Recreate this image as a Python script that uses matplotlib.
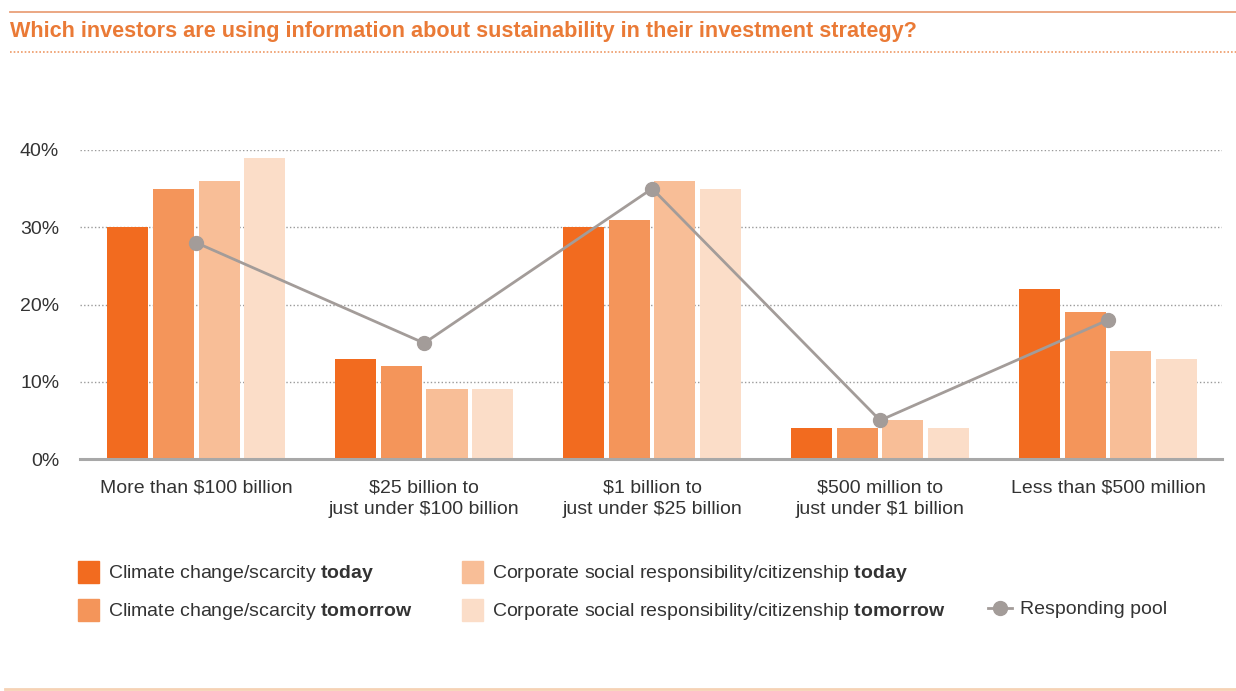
import matplotlib
matplotlib.use("Agg")
import matplotlib.pyplot as plt
from matplotlib.lines import Line2D
from matplotlib.patches import Rectangle
import numpy as np

plt.rcParams['font.family'] = ['Liberation Sans', 'DejaVu Sans']
plt.rcParams['mathtext.fontset'] = 'custom'
plt.rcParams['mathtext.rm'] = 'Liberation Sans'
plt.rcParams['mathtext.bf'] = 'Liberation Sans:bold'

title = "Which investors are using information about sustainability in their investment strategy?"
groups = ["More than $100 billion",
          "$25 billion to\njust under $100 billion",
          "$1 billion to\njust under $25 billion",
          "$500 million to\njust under $1 billion",
          "Less than $500 million"]
climate_today = [30, 13, 30, 4, 22]
climate_tomorrow = [35, 12, 31, 4, 19]
csr_today = [36, 9, 36, 5, 14]
csr_tomorrow = [39, 9, 35, 4, 13]
pool = [28, 15, 35, 5, 18]
yticks = [0, 10, 20, 30, 40]

series = [climate_today, climate_tomorrow, csr_today, csr_tomorrow]
colors = ["#F26B1F", "#F4955A", "#F8BE97", "#FBDDC8"]
labels = [r"Climate change/scarcity $\mathbf{today}$",
          r"Climate change/scarcity $\mathbf{tomorrow}$",
          r"Corporate social responsibility/citizenship $\mathbf{today}$",
          r"Corporate social responsibility/citizenship $\mathbf{tomorrow}$"]
gray = "#A39C99"
txt = "#333333"
orange = "#EA7A36"

W, H = 1236, 691
fig = plt.figure(figsize=(W / 100, H / 100), dpi=100)
ax = fig.add_axes([80 / W, 1 - 459 / H, (1222 - 80) / W, (459 - 150) / H])

x = np.arange(len(groups))
offsets = [-0.3, -0.1, 0.1, 0.3]
for vals, off, c in zip(series, offsets, colors):
    ax.bar(x + off, vals, width=0.18, color=c, zorder=2)

ax.plot(x, pool, color=gray, lw=2, marker="o", ms=10, zorder=3, clip_on=False)

ax.set_xlim(-0.51, 4.5)
ax.set_ylim(0, 40)
ax.set_yticks(yticks, [f"{v}%" for v in yticks])
for v in yticks[1:]:
    ax.axhline(v, color="#9A9A9A", lw=1, ls=(0, (1, 1.6)), zorder=1)
ax.axhline(0, color="#A8A8A8", lw=2.2, zorder=4, clip_on=False)
ax.set_xticks(x, groups)
ax.tick_params(axis="x", length=0, pad=15, labelsize=14, labelcolor=txt)
ax.tick_params(axis="y", length=0, pad=15, labelsize=14, labelcolor=txt)
for lab in ax.get_xticklabels():
    lab.set_linespacing(1.3)
for s in ax.spines.values():
    s.set_visible(False)

# header and footer rules
fig.add_artist(Line2D([10 / W, 1], [1 - 12 / H] * 2, color="#E9A07A", lw=1.3))
fig.add_artist(Line2D([10 / W, 1], [1 - 52 / H] * 2, color="#EE9A66", lw=1.2, ls=(0, (1, 1.2))))
fig.add_artist(Line2D([5 / W, 1], [1 - 689 / H] * 2, color="#F6D2B4", lw=2))
fig.text(10 / W, 1 - 32 / H, title, color=orange, fontsize=15.6, fontweight="bold", va="center")

# legend
rows = [1 - 572 / H, 1 - 610 / H]
cols = [78, 462]
for i, (lab, c) in enumerate(zip(labels, colors)):
    cx = cols[i // 2]
    cy = rows[i % 2]
    fig.add_artist(Rectangle((cx / W, cy - 11 / H), 21 / W, 22 / H, color=c,
                             transform=fig.transFigure))
    fig.text((cx + 30) / W, cy - 2 / H, lab, color=txt, fontsize=14, va="center")
fig.add_artist(Line2D([988 / W, 1012 / W], [rows[1] + 2 / H] * 2, color=gray, lw=2))
fig.add_artist(Line2D([1000 / W], [rows[1] + 2 / H], color=gray, marker="o", ms=10))
fig.text(1020 / W, rows[1], "Responding pool", color=txt, fontsize=14, va="center")

fig.savefig("out.png", dpi=100, facecolor="white")
